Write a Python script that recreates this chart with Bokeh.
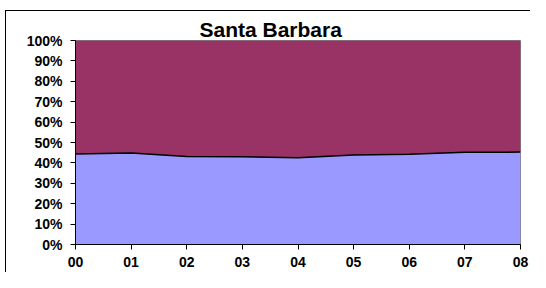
from bokeh.plotting import figure
from bokeh.models import ColumnDataSource, FixedTicker, Range1d
from bokeh.embed import file_html
from bokeh.resources import INLINE

# ---- data ----
years = ["00", "01", "02", "03", "04", "05", "06", "07", "08"]
lower_share = [44.4, 44.9, 43.1, 43.0, 42.5, 43.9, 44.2, 45.2, 45.3]
upper_share = [55.6, 55.1, 56.9, 57.0, 57.5, 56.1, 55.8, 54.8, 54.7]
y_ticks = [0, 10, 20, 30, 40, 50, 60, 70, 80, 90, 100]
y_tick_labels = ["0%", "10%", "20%", "30%", "40%", "50%", "60%", "70%", "80%", "90%", "100%"]
title_text = "Santa Barbara"

lower_color = "#9999FF"
upper_color = "#993366"
FONT = "Liberation Sans"

xs = list(range(len(years)))
totals = [a + b for a, b in zip(lower_share, upper_share)]
source = ColumnDataSource(dict(
    x=xs,
    lower=[100.0 * a / t for a, t in zip(lower_share, totals)],
    upper=[100.0 * b / t for b, t in zip(upper_share, totals)],
))

# chart-area border (left and top edges), drawn behind the transparent canvas border
border_css = {
    "background-image": "linear-gradient(#000, #000), linear-gradient(#000, #000)",
    "background-repeat": "no-repeat",
    "background-size": "1px 100%, 100% 1px",
    "background-position": "5px 10px, 5px 10px",
}

p = figure(width=530, height=272, output_backend="svg", toolbar_location=None,
           x_range=Range1d(0, len(years) - 1), y_range=Range1d(0, 100),
           min_border_left=75, min_border_right=10, min_border_top=40, min_border_bottom=28,
           styles=border_css)

p.varea_stack(stackers=["lower", "upper"], x="x", color=[lower_color, upper_color], source=source)
p.line(x="x", y="lower", source=source, line_color="black", line_width=1.5)

p.xgrid.visible = False
p.ygrid.visible = False
p.outline_line_color = "#808080"
p.outline_line_width = 1
p.background_fill_color = "white"
p.border_fill_color = None

# title
p.title.text = title_text
p.title.align = "left"
p.title.offset = 124
p.title.standoff = 0
p.title.vertical_align = "bottom"
p.title.text_font = FONT
p.title.text_font_style = "bold"
p.title.text_font_size = "21px"
p.title.text_color = "black"

# axes
p.xaxis.ticker = FixedTicker(ticks=xs)
p.xaxis.major_label_overrides = {i: lab for i, lab in enumerate(years)}
p.yaxis.ticker = FixedTicker(ticks=y_ticks)
p.yaxis.major_label_overrides = {t: lab for t, lab in zip(y_ticks, y_tick_labels)}
for ax in (p.xaxis, p.yaxis):
    ax.axis_line_color = "black"
    ax.axis_line_width = 1
    ax.major_tick_line_color = "black"
    ax.major_tick_out = 5
    ax.major_tick_in = 0
    ax.minor_tick_line_color = None
    ax.major_label_text_font = FONT
    ax.major_label_text_font_style = "bold"
    ax.major_label_text_font_size = "14px"
    ax.major_label_text_color = "black"
p.yaxis.major_label_standoff = 8
p.xaxis.major_label_standoff = 7

open("out.html", "w").write(file_html(p, INLINE))
